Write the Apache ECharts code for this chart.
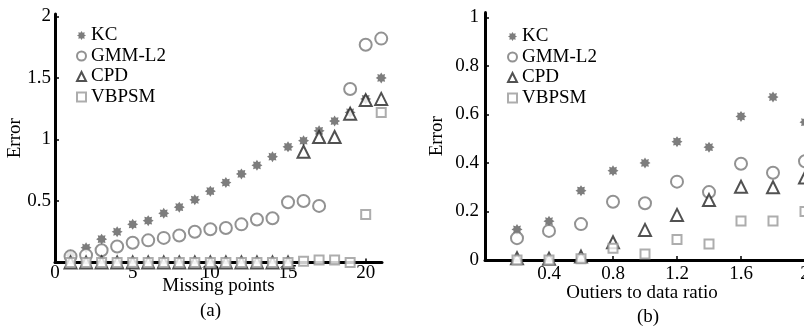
<!DOCTYPE html>
<html>
<head>
<meta charset="utf-8">
<script src="https://cdn.jsdelivr.net/npm/echarts@6/dist/echarts.min.js"></script>
<style>
  html, body { margin: 0; padding: 0; background: #fff; }
  #chart { width: 804px; height: 331px; }
</style>
</head>
<body>
<div id="chart"></div>
<script>
// (a) error vs missing points
var missingX = [1, 2, 3, 4, 5, 6, 7, 8, 9, 10, 11, 12, 13, 14, 15, 16, 17, 18, 19, 20, 21];
var kcA  = [0.06, 0.12, 0.19, 0.25, 0.31, 0.34, 0.40, 0.45, 0.51, 0.58, 0.65, 0.72, 0.79, 0.86, 0.94, 0.99, 1.07, 1.15, 1.22, 1.33, 1.50];
var gmmA = [0.05, 0.06, 0.10, 0.13, 0.16, 0.18, 0.20, 0.22, 0.25, 0.27, 0.28, 0.31, 0.35, 0.36, 0.49, 0.50, 0.46, null, 1.41, 1.77, 1.82];
var cpdA = [0, 0, 0, 0, 0, 0, 0, 0, 0, 0, 0, 0, 0, 0, 0, 0.90, 1.02, 1.02, 1.21, 1.32, 1.33];
var vbA  = [0, 0, 0, 0, 0, 0, 0, 0, 0, 0, 0, 0, 0, 0, 0, 0.01, 0.02, 0.02, 0.00, 0.39, 1.22];

// (b) error vs outliers ratio
var ratioX = [0.2, 0.4, 0.6, 0.8, 1.0, 1.2, 1.4, 1.6, 1.8, 2.0];
var kcB  = [0.126, 0.16, 0.286, 0.368, 0.40, 0.488, 0.465, 0.592, 0.672, 0.568];
var gmmB = [0.09, 0.12, 0.148, 0.24, 0.234, 0.323, 0.28, 0.397, 0.36, 0.407];
var cpdB = [0.007, 0.005, 0.014, 0.073, 0.124, 0.186, 0.247, 0.302, 0.30, 0.34];
var vbB  = [0, 0, 0.005, 0.048, 0.025, 0.085, 0.066, 0.161, 0.161, 0.20];

var names = ['KC', 'GMM-L2', 'CPD', 'VBPSM'];

var font = 'Liberation Serif';
// fat 8 point star used for KC
var star = 'path://M10,0L12.49,3.99L17.07,2.93L16.01,7.51L20,10L16.01,12.49L17.07,17.07L12.49,16.01L10,20L7.51,16.01L2.93,17.07L3.99,12.49L0,10L3.99,7.51L2.93,2.93L7.51,3.99Z';

function pairs(xs, ys) {
    var out = [];
    xs.forEach(function (x, i) {
        if (ys[i] !== null) out.push([x, ys[i]]);
    });
    return out;
}

function makeSeries(idx, xs, kc, gmm, cpd, vb) {
    return [
        {
            name: 'KC', type: 'scatter', xAxisIndex: idx, yAxisIndex: idx, clip: false,
            symbol: star, symbolSize: 11,
            itemStyle: { color: '#5c5c5c' },
            data: pairs(xs, kc)
        },
        {
            name: 'GMM-L2', type: 'scatter', xAxisIndex: idx, yAxisIndex: idx, clip: false,
            symbol: 'emptyCircle', symbolSize: 12,
            itemStyle: { color: '#777777', borderWidth: 1.6 },
            data: pairs(xs, gmm)
        },
        {
            name: 'CPD', type: 'scatter', xAxisIndex: idx, yAxisIndex: idx, clip: false,
            symbol: 'emptyTriangle', symbolSize: 12,
            itemStyle: { color: '#262626', borderWidth: 2 },
            data: pairs(xs, cpd)
        },
        {
            name: 'VBPSM', type: 'scatter', xAxisIndex: idx, yAxisIndex: idx, clip: false,
            symbol: 'emptyRect', symbolSize: 9,
            itemStyle: { color: '#999999', borderWidth: 1.5 },
            data: pairs(xs, vb)
        }
    ];
}

function axisStyle() {
    return {
        axisLine: { show: true, onZero: false, lineStyle: { color: '#000', width: 3 } },
        axisTick: { show: true, inside: true, length: 4, lineStyle: { color: '#000', width: 1.5 } },
        splitLine: { show: false },
        nameMoveOverlap: false,
        axisLabel: { color: '#000', fontFamily: font, fontSize: 19 }
    };
}

var chart = echarts.init(document.getElementById('chart'));

var xa0 = axisStyle();
Object.assign(xa0, {
    gridIndex: 0, type: 'value', min: 0, max: 21.05, interval: 5,
    name: 'Missing points', nameLocation: 'middle', nameGap: 14,
    nameTextStyle: { color: '#000', fontFamily: font, fontSize: 19 }
});
xa0.axisLabel.margin = 1;
xa0.axisLabel.showMaxLabel = false;

var ya0 = axisStyle();
Object.assign(ya0, {
    gridIndex: 0, type: 'value', min: 0, max: 2.02, interval: 0.5,
    name: 'Error', nameLocation: 'middle', nameGap: 30,
    nameTextStyle: { color: '#000', fontFamily: font, fontSize: 19 }
});
ya0.axisLabel.margin = 4;
ya0.axisLabel.showMinLabel = false;

var xa1 = axisStyle();
Object.assign(xa1, {
    gridIndex: 1, type: 'value', min: 0, max: 2.2, interval: 0.4,
    name: 'Outiers to data ratio', nameLocation: 'middle', nameGap: 24,
    nameTextStyle: { color: '#000', fontFamily: font, fontSize: 19, padding: [0, 38, 0, 0] }
});
xa1.axisLabel.margin = 5;
xa1.axisLabel.showMinLabel = false;
xa1.axisLabel.showMaxLabel = false;

var ya1 = axisStyle();
Object.assign(ya1, {
    gridIndex: 1, type: 'value', min: 0, max: 1.02, interval: 0.2,
    name: 'Error', nameLocation: 'middle', nameGap: 38,
    nameTextStyle: { color: '#000', fontFamily: font, fontSize: 19 }
});
ya1.axisLabel.margin = 6;

var legendBase = {
    orient: 'vertical',
    itemWidth: 9,
    itemHeight: 9,
    itemGap: 1.5,
    data: names,
    textStyle: { color: '#000', fontFamily: font, fontSize: 19 }
};

var option = {
    backgroundColor: '#fff',
    animation: false,
    grid: [
        { left: 55, top: 14, width: 327, height: 248.5, outerBoundsMode: 'none' },
        { left: 485, top: 12.6, width: 352, height: 247.4, outerBoundsMode: 'none' }
    ],
    xAxis: [xa0, xa1],
    yAxis: [ya0, ya1],
    legend: [
        Object.assign({ left: 71, top: 21 }, legendBase),
        Object.assign({ left: 502, top: 22 }, legendBase)
    ],
    graphic: [
        { type: 'text', left: 200, top: 302, style: { text: '(a)', fill: '#000', font: '19px "Liberation Serif"' } },
        { type: 'text', left: 637, top: 308, style: { text: '(b)', fill: '#000', font: '19px "Liberation Serif"' } }
    ],
    series: makeSeries(0, missingX, kcA, gmmA, cpdA, vbA)
        .concat(makeSeries(1, ratioX, kcB, gmmB, cpdB, vbB))
};

chart.setOption(option);
</script>
</body>
</html>
